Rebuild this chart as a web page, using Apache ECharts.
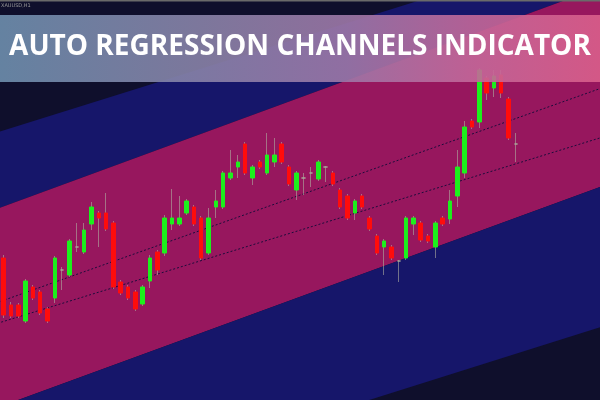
<!DOCTYPE html>
<html>
<head>
<meta charset="utf-8">
<script src="https://cdn.jsdelivr.net/npm/echarts@6/dist/echarts.min.js"></script>
<style>html,body{margin:0;padding:0;background:#0f0f2c;}#chart{width:600px;height:400px;}</style>
</head>
<body>
<div id="chart"></div>
<script>
// ---- candle data (H1 bars) ----
const opens  = [1942,1895,1895,1879,1913,1908,1891,1902,1930,1925, 1953,1948,1976,1987,1987,1977,1918,1913,1908,1896, 1919,1948,1947,1976,1976,1987,1993,1982,1947,1993, 1993,2022,2033,2056,2022,2038,2027,2038,2056,2033, 2010,2022,2027,2021,2033,2027,2010,2004,1987,2004, 1982,1964,1953,1953,1939,1942,1976,1977,1964,1953, 1982,1981,2004,2027,2079,2078,2122,2112,2125,2101, 2056];
const closes = [1885,1884,1884,1919,1902,1887,1879,1942,1930,1959, 1953,1970,1993,1982,1971,1913,1907,1902,1891,1913, 1942,1930,1982,1982,1982,1999,1976,1942,1982,1999, 2027,2027,2038,2027,2033,2033,2045,2045,2038,2016, 2027,2022,2027,2038,2033,2016,1993,1982,1999,1993, 1971,1947,1959,1942,1939,1982,1982,1960,1959,1977, 1976,1999,2033,2073,2073,2130,2107,2124,2107,2062, 2056];
const lows   = [1882,1882,1882,1877,1900,1885,1877,1897,1910,1923, 1948,1946,1970,1953,1969,1911,1905,1900,1889,1894, 1912,1925,1944,1970,1974,1985,1974,1940,1945,1982, 1991,2020,2022,2025,2015,2031,2025,2033,2036,2014, 2000,2005,2013,2019,2018,2014,1991,1980,1980,1991, 1969,1945,1925,1940,1918,1940,1965,1958,1957,1942, 1974,1976,1993,2022,2071,2072,2100,2103,2102,2060, 2038];
const highs  = [1945,1898,1897,1921,1915,1910,1893,1944,1933,1961, 1977,1977,1998,1989,2007,1979,1920,1915,1910,1915, 1945,1950,1985,2011,2004,2001,1995,1984,1992,2010, 2029,2050,2045,2058,2035,2040,2067,2062,2058,2035, 2029,2027,2033,2040,2034,2029,2012,2006,2001,2006, 1984,1966,1961,1955,1940,1984,1984,1979,1966,1979, 1984,2010,2050,2079,2081,2132,2124,2130,2130,2103, 2067];
const barCount = 82; // visible bar slots (right side is empty future space)
const categories = Array.from({length: barCount}, (_, i) => 'Bar ' + (i + 1));

// ---- channel lines: value at bar 0 and at bar 80 ----
const outerTopLine    = [2069.6, 2252.6];
const innerTopLine    = [1993.7, 2208.6];
const innerBottomLine = [1794.7, 2009.0];
const outerBottomLine = [1684.6, 1869.4];
const regUpperLine    = [1899.7, 2107.5];
const regLowerLine    = [1878.6, 2058.7];
const lineRefBars = [0, 80];

const title = 'AUTO REGRESSION CHANNELS INDICATOR';

function valAt(line, i) {
  return line[0] + (line[1] - line[0]) * (i - lineRefBars[0]) / (lineRefBars[1] - lineRefBars[0]);
}
const xEnds = [-4, 86];

function band(upper, lower, color) {
  return {
    type: 'custom', xAxisIndex: 1, yAxisIndex: 0, silent: true, z: 1,
    data: [[0, 2000]],
    renderItem: function (params, api) {
      const pts = [
        api.coord([xEnds[0], valAt(upper, xEnds[0])]),
        api.coord([xEnds[1], valAt(upper, xEnds[1])]),
        api.coord([xEnds[1], valAt(lower, xEnds[1])]),
        api.coord([xEnds[0], valAt(lower, xEnds[0])])
      ];
      return { type: 'polygon', shape: { points: pts }, style: { fill: color } };
    }
  };
}
function regLine(line) {
  return {
    type: 'line', xAxisIndex: 1, yAxisIndex: 0, silent: true, z: 2,
    symbol: 'none', clip: true,
    data: xEnds.map(i => [i, valAt(line, i)]),
    lineStyle: { color: '#1c0c3c', width: 1, type: [2, 2] }
  };
}

const UP = '#1cf01c', DOWN = '#ff0c0c', DOJI = '#a8a898', WICK = 'rgba(175,175,160,0.6)';
const wickData = opens.map((o, i) => [o, closes[i], lows[i], highs[i]]);
const bodyData = opens.map((o, i) => {
  const c = closes[i];
  const item = { value: [o, c, Math.min(o, c), Math.max(o, c)] };
  if (o === c) item.itemStyle = { color: DOJI, color0: DOJI, borderColor: DOJI, borderColor0: DOJI };
  return item;
});

const chart = echarts.init(document.getElementById('chart'), null, { renderer: 'canvas' });
chart.setOption({
  backgroundColor: '#0f0f2c',
  animation: false,
  grid: { left: -1.7, top: 0, width: 605.2, height: 400 },
  xAxis: [
    { type: 'category', data: categories, boundaryGap: true, show: false },
    { type: 'value', min: -0.5, max: barCount - 0.5, show: false }
  ],
  yAxis: [{ type: 'value', min: 1800, max: 2200, show: false }],
  series: [
    band(innerTopLine, outerTopLine, '#16166a'),
    band(innerBottomLine, innerTopLine, '#97175e'),
    band(outerBottomLine, innerBottomLine, '#16166a'),
    regLine(regUpperLine),
    regLine(regLowerLine),
    {
      type: 'candlestick', xAxisIndex: 0, yAxisIndex: 0, z: 3, silent: true,
      barWidth: 1, data: wickData,
      itemStyle: { color: WICK, color0: WICK, borderColor: WICK, borderColor0: WICK, borderWidth: 1 }
    },
    {
      type: 'candlestick', xAxisIndex: 0, yAxisIndex: 0, z: 4, silent: true,
      barWidth: 4, data: bodyData,
      itemStyle: { color: UP, color0: DOWN, borderColor: UP, borderColor0: DOWN, borderWidth: 1 }
    }
  ],
  graphic: [
    { type: 'rect', z: 100, shape: { x: 0, y: 0, width: 600, height: 1.5 }, style: { fill: '#6a6a6a' } },
    { type: 'text', z: 100, left: 1, top: 3, style: { text: 'XAUUSD,H1', font: '5px "DejaVu Sans"', fill: '#9a9a9a' } },
    {
      type: 'rect', z: 100, shape: { x: 0, y: 15, width: 600, height: 67 },
      style: {
        fill: new echarts.graphic.LinearGradient(0, 0, 1, 0, [
          { offset: 0, color: '#6e8fae' },
          { offset: 0.35, color: '#8a82a8' },
          { offset: 0.58, color: '#9e78a8' },
          { offset: 0.78, color: '#c2689a' },
          { offset: 1, color: '#da5f8b' }
        ]),
        opacity: 0.9
      }
    },
    {
      type: 'text', z: 101, x: 300, y: 47,
      style: { text: title, fill: '#ffffff', font: 'bold 28px "Open Sans"', align: 'center', verticalAlign: 'middle' }
    }
  ]
});
</script>
</body>
</html>
